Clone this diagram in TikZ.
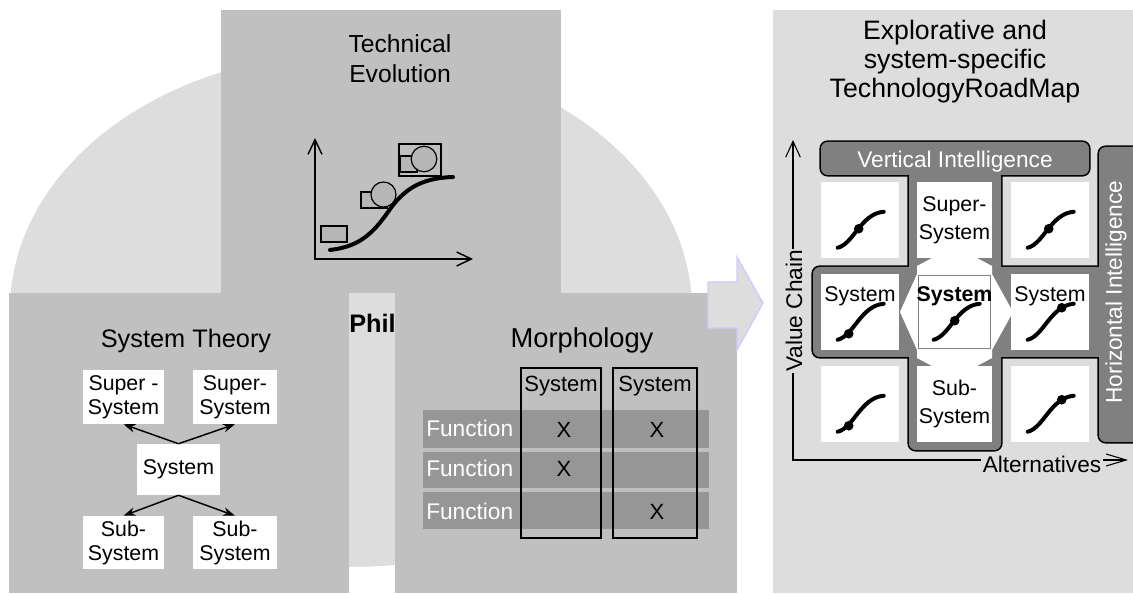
\documentclass[tikz,border=0pt]{standalone}
\usepackage{fontspec}
\setmainfont{Liberation Sans}
\usetikzlibrary{arrows.meta,calc}

\definecolor{bgpale}{RGB}{221,221,221}
\definecolor{panelgray}{RGB}{192,192,192}
\definecolor{rowgray}{RGB}{150,150,150}
\definecolor{bardark}{RGB}{128,128,128}
\definecolor{arrowblue}{RGB}{204,204,255}
\definecolor{shapegray}{RGB}{182,182,182}

\tikzset{
  panel/.style={fill=panelgray},
  title/.style={align=center, inner sep=0pt},
  stbox/.style={fill=white, inner sep=0pt, align=center, font=\fontsize{16}{18}\selectfont},
  sysarrow/.style={-{Stealth[length=9pt,width=6.5pt]}, line width=1.1pt},
  teshape/.style={draw, fill=shapegray, line width=0.9pt},
  mcol/.style={draw, line width=1.1pt, inner sep=0pt, minimum height=127.5pt},
  mtext/.style={anchor=base, inner sep=0pt, font=\fontsize{16.5}{20}\selectfont},
  fname/.style={text=white, anchor=base west, inner sep=0pt, font=\fontsize{17}{20}\selectfont},
  rmcell/.style={fill=white, inner sep=0pt, minimum height=57pt, align=center, font=\fontsize{16}{21}\selectfont},
  celllabel/.style={anchor=base, inner sep=0pt, font=\fontsize{16}{20}\selectfont},
  scurve/.style={line width=3pt, line cap=round},
  barlabel/.style={text=white, inner sep=0pt, font=\fontsize{17}{20}\selectfont},
  axislabel/.style={fill=bgpale, inner sep=1pt, font=\fontsize{17}{20}\selectfont},
}

% s-curve inside a roadmap cell, dot at (#2,#3) from the cell corner
\newcommand{\rmcurve}[3]{%
  \draw[scurve] ($(#1.north west)+(17,66)$) .. controls ($(#1.north west)+(33,62)$) and ($(#1.north west)+(40,32)$) .. ($(#1.north west)+(63,30)$);
  \fill ($(#1.north west)+(#2,#3)$) circle [radius=3.6pt];}

\begin{document}
\begin{tikzpicture}[x=0.75pt,y=-0.75pt]
\useasboundingbox (0,0) rectangle (1133,595);

% philosophy
\fill[bgpale] (351,310) ellipse [x radius=255.75pt, y radius=192.75pt];

% technical evolution
\fill[panel] (221,10) rectangle (561,293);
\node[title, font=\fontsize{18.5}{22.5}\selectfont] (tetitle) at (400,59) {Technical\\Evolution};
\coordinate (teyend) at (315,138);
\coordinate (texend) at (473,259);
\draw[line width=1.1pt, {Straight Barb[length=11pt,width=10.5pt]}-{Straight Barb[length=11pt,width=10.5pt]}] (teyend) |- (texend);
\draw[scurve] (330,250) .. controls (355,247) and (370,238) .. (388,212) .. controls (403,190) and (420,178) .. (453,177);
\draw[teshape] (321,226) rectangle (347,242);
\draw[teshape] (361,192) rectangle (387,208);
\draw[teshape] (383.5,194.5) circle [radius=9.4pt];
\draw[line width=0.9pt] (399,144) rectangle (441,176);
\draw[teshape] (400,156) rectangle (417,172);
\draw[teshape] (424,159) circle [radius=9.6pt];

% system theory
\fill[panel] (9,293) rectangle (349,593);
\node[title, font=\fontsize{19}{22}\selectfont, anchor=base] (sttitle) at (186,348) {System Theory};
\node[stbox, minimum width=60.75pt, minimum height=40.5pt] (sup1) at (123.5,397) {Super -\\System};
\node[stbox, minimum width=63pt, minimum height=40.5pt] (sup2) at (235,397) {Super-\\System};
\node[stbox, minimum width=62.25pt, minimum height=38.25pt] (sys) at (178.5,469.5) {System};
\node[stbox, minimum width=60.75pt, minimum height=39.75pt] (sub1) at (123.5,542.5) {Sub-\\System};
\node[stbox, minimum width=63pt, minimum height=39.75pt] (sub2) at (235,542.5) {Sub-\\System};
\draw[sysarrow] (sys.north) -- (sup1.south);
\draw[sysarrow] (sys.north) -- (sup2.south);
\draw[sysarrow] (sys.south) -- (sub1.north);
\draw[sysarrow] (sys.south) -- (sub2.north);

\node[anchor=base west, inner sep=0pt, font=\fontsize{19}{22}\selectfont\bfseries] (philo) at (349,333) {Phil};

% morphology
\fill[panel] (395,293) rectangle (737,593);
\node[title, font=\fontsize{20.5}{24}\selectfont, anchor=base] (mtitle) at (582,348) {Morphology};
\foreach \ya/\yb in {410/448, 452/488, 492/529}
  \fill[rowgray] (423,\ya) rectangle (709,\yb);
\node[mcol, minimum width=60pt] (mcol1) at (561,453) {};
\node[mcol, minimum width=63pt] (mcol2) at (655,453) {};
\node[mtext] (mhead1) at (561,392) {System};
\node[mtext] (mhead2) at (655,392) {System};
\foreach \yb [count=\i] in {437,477,519}
  \node[fname] (fun\i) at (426,\yb) {Function};
\node[mtext] (x11) at (564,438) {X};
\node[mtext] (x12) at (657,438) {X};
\node[mtext] (x21) at (564,477) {X};
\node[mtext] (x32) at (657,519) {X};

% arrow to the roadmap
\draw[fill=bgpale, draw=arrowblue, line width=1pt] (708,282) -- (737,282) -- (737,257) -- (763,303) -- (737,350) -- (737,328) -- (708,328) -- cycle;

% technology roadmap
\fill[bgpale] (773,10) rectangle (1133,593);
\node[title, font=\fontsize{20}{21.75}\selectfont] (rmtitle) at (955,62) {Explorative and\\system-specific\\TechnologyRoadMap};

\begin{scope}
  \clip (773,10) rectangle (1133,593);
  \foreach \ax/\ay/\bx/\by in {821/142/1089/175, 909/170/1001/450, 813/267/1105/357, 1099/147/1145/442}
    \draw[line width=2.4pt, rounded corners=5pt] (\ax,\ay) rectangle (\bx,\by);
  \foreach \ax/\ay/\bx/\by in {821/142/1089/175, 909/170/1001/450, 813/267/1105/357, 1099/147/1145/442}
    \fill[bardark, rounded corners=5pt] (\ax,\ay) rectangle (\bx,\by);
\end{scope}
\fill[white] (917,266) -- (932,258) -- (977,258) -- (992,266) -- (992,274) -- (1013,312) -- (992,350)
  -- (992,358) -- (977,366) -- (932,366) -- (917,358) -- (917,350) -- (900,312) -- (917,274) -- cycle;

\node[rmcell, minimum width=58.5pt] (c11) at (860,220) {};
\node[rmcell, minimum width=56.25pt] (c12) at (954.5,220) {Super-\\System};
\node[rmcell, minimum width=58.5pt] (c13) at (1050,220) {};
\node[rmcell, minimum width=58.5pt] (c21) at (860,312) {};
\node[rmcell, minimum width=56.25pt] (c22) at (954.5,312) {};
\node[rmcell, minimum width=58.5pt] (c23) at (1050,312) {};
\node[rmcell, minimum width=58.5pt] (c31) at (860,404) {};
\node[rmcell, minimum width=56.25pt] (c32) at (954.5,404) {Sub-\\System};
\node[rmcell, minimum width=58.5pt] (c33) at (1050,404) {};
\draw[gray, line width=0.5pt] ($(c22.north west)+(2,2)$) rectangle ($(c22.south east)+(-2,-2)$);

\foreach \c/\dx/\dy in {c11/38/47, c13/38/47, c21/28/60, c22/38/47, c23/51/34, c31/28/60, c33/51/34}
  \rmcurve{\c}{\dx}{\dy};
\node[celllabel] (l21) at ($(c21.north)+(0,28)$) {System};
\node[celllabel, font=\fontsize{16}{20}\selectfont\bfseries] (l22) at ($(c22.north)+(0,28)$) {System};
\node[celllabel] (l23) at ($(c23.north)+(0,28)$) {System};

\node[barlabel, anchor=base] (vintel) at (955,168) {Vertical Intelligence};
\node[barlabel, rotate=90] (hintel) at (1116,292) {Horizontal Intelligence};

\coordinate (vctop) at (793,140);
\coordinate (altend) at (1128,460);
\draw[line width=0.8pt, {Straight Barb[length=12pt,width=11pt]}-{Straight Barb[length=15pt,width=9pt]}] (vctop) |- (altend);
\node[axislabel, rotate=90] (vchain) at (794,311) {Value Chain};
\node[axislabel, anchor=base] (altern) at (1042,473) {Alternatives};
\end{tikzpicture}
\end{document}
